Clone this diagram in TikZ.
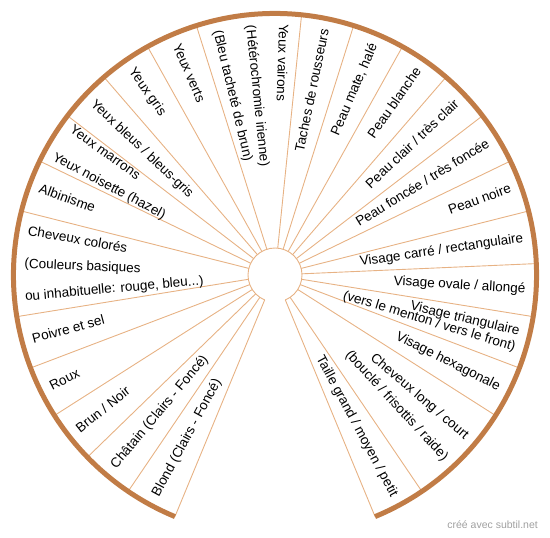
\documentclass[tikz,border=0pt]{standalone}
\usepackage{fontspec}
\setmainfont{Liberation Sans}
\definecolor{ringc}{RGB}{193,124,70}
\definecolor{spokec}{RGB}{231,178,132}
\definecolor{creditc}{RGB}{160,160,160}
\newcommand\LabL[3]{\node[lbl, anchor=west, rotate=#2-180] (#1) at ([shift={(#2:251)}]C) {#3};}
\newcommand\LabR[3]{\node[lbl, anchor=east, rotate=#2] (#1) at ([shift={(#2:251)}]C) {#3};}
\begin{document}
\begin{tikzpicture}[x=1pt,y=1pt,
  spoke/.style={draw=spokec, line width=0.9pt},
  ring/.style={draw=ringc, line width=5pt},
  lbl/.style={inner sep=0pt, text=black, font=\fontsize{13.5}{16}\selectfont, text height=9.6pt, text depth=2.8pt},
  credit/.style={inner sep=0pt, text=creditc, font=\fontsize{10.5}{12}\selectfont}]
\useasboundingbox (0,0) rectangle (550,-538);
\coordinate (C) at (275,-275);
% spokes
\foreach \a in {247.5,235.8333,224.1667,212.5,200.8333,189.1667,165.8333,154.1667,142.5,130.8333,119.1667,107.5,84.1667,72.5,60.8333,49.1667,37.5,25.8333,14.1667,2.5,-9.1667,-20.8333,-32.5,-55.8333,-67.5}
  \draw[spoke] ([shift={(\a:27)}]C) -- ([shift={(\a:261.5)}]C);
% inner arc
\draw[spoke] ([shift={(-67.5:27)}]C) arc[start angle=-67.5, end angle=247.5, radius=27];
% outer ring
\draw[ring] ([shift={(-67.5:261.5)}]C) arc[start angle=-67.5, end angle=247.5, radius=261.5];
% left side labels
\LabL{blond}{241.67}{Blond (Clairs - Foncé)}
\LabL{chatain}{230}{Châtain (Clairs - Foncé)}
\LabL{brun}{218.33}{Brun / Noir}
\LabL{roux}{206.67}{Roux}
\LabL{poivre}{195}{Poivre et sel}
\LabL{colA}{170.1}{Cheveux colorés}
\LabL{colB}{177.6}{(Couleurs basiques}
\LabL{colC}{185.1}{ou inhabituelle: rouge, bleu...)}
\LabL{albin}{160}{Albinisme}
\LabL{marrons}{144.4}{Yeux marrons}
\LabL{noisette}{152}{Yeux noisette (hazel)}
\LabL{bleus}{136.67}{Yeux bleus / bleus-gris}
\LabL{gris}{125}{Yeux gris}
\LabL{verts}{113.33}{Yeux verts}
\LabL{vairA}{88.3}{Yeux vairons}
\LabL{vairB}{95.8}{(Hétérochromie irienne)}
\LabL{vairC}{103.4}{(Bleu tacheté de brun)}
% right side labels
\LabR{taches}{78.33}{Taches de rousseurs}
\LabR{mate}{66.67}{Peau mate, halé}
\LabR{blanche}{55}{Peau blanche}
\LabR{clair}{43.33}{Peau clair / très clair}
\LabR{foncee}{31.67}{Peau foncée / très foncée}
\LabR{noire}{20}{Peau noire}
\LabR{carre}{8.33}{Visage carré / rectangulaire}
\LabR{ovale}{-3.33}{Visage ovale / allongé}
\LabR{triA}{-13.1}{Visage triangulaire}
\LabR{triB}{-16.9}{(vers le menton / vers le front)}
\LabR{hexa}{-26.67}{Visage hexagonale}
\LabR{longA}{-40.2}{Cheveux long / court}
\LabR{longB}{-47.2}{(bouclé / frisottis / raide)}
\LabR{taille}{-61.67}{Taille grand / moyen / petit}
% credit
\node[credit, anchor=east] (credit) at (538,-525) {créé avec subtil.net};
\end{tikzpicture}
\end{document}
